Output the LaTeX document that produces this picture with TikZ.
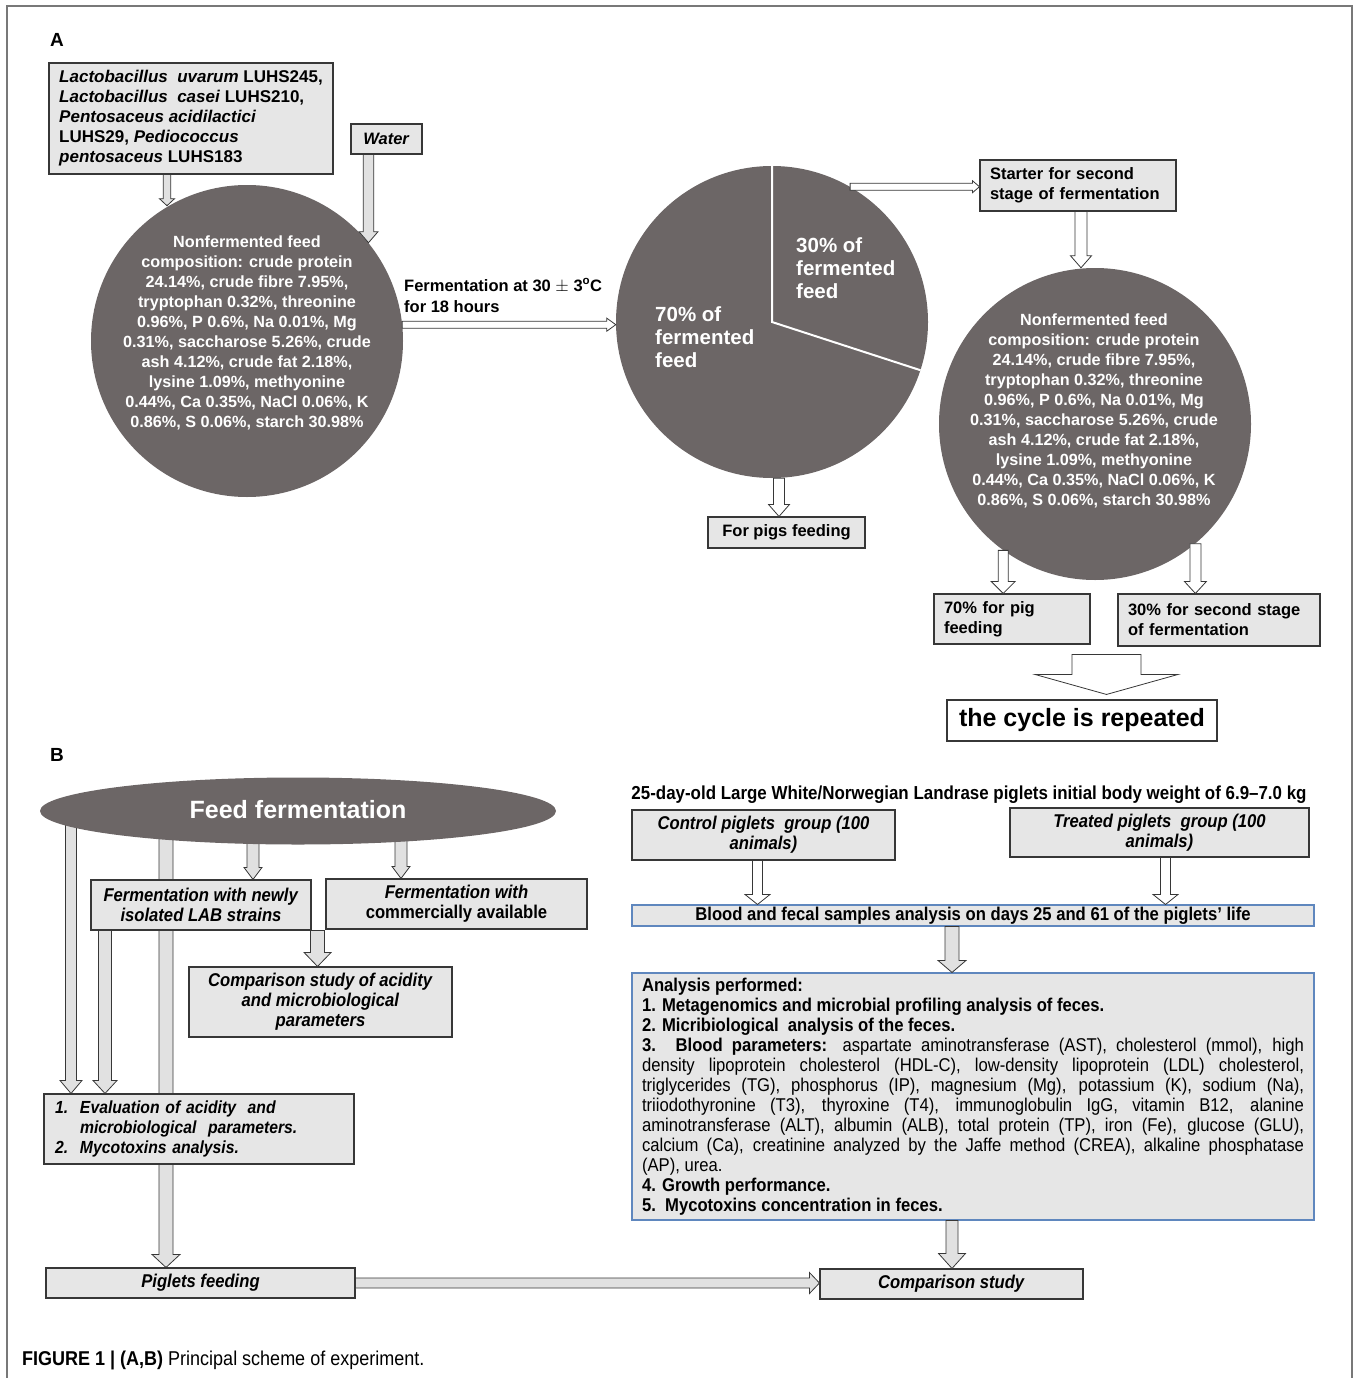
\documentclass[tikz,border=0pt]{standalone}
\usepackage{fontspec}
\setmainfont{Liberation Sans}
\newfontfamily\narrow[FakeStretch=0.9]{Liberation Sans}
\usetikzlibrary{calc,shapes.geometric}
\pgfdeclarelayer{background}
\pgfsetlayers{background,main}
\definecolor{disc}{RGB}{108,102,102}
\definecolor{boxfill}{RGB}{230,230,230}
\definecolor{boxline}{RGB}{55,55,55}
\definecolor{blueline}{RGB}{95,135,190}
\definecolor{arrfill}{RGB}{225,225,225}
\definecolor{framec}{RGB}{120,120,120}
\newcommand{\varrow}[6]{%
 \draw[arrline, fill=#6] let \p1=#1, \p2=#2 in
 (\x1-#3,\y1) -- (\x1-#3,\y2+#5) -- (\x1-#4,\y2+#5) -- (\x1,\y2) -- (\x1+#4,\y2+#5) -- (\x1+#3,\y2+#5) -- (\x1+#3,\y1) -- cycle;}
\newcommand{\harrow}[6]{%
 \draw[arrline, fill=#6] let \p1=#1, \p2=#2 in
 (\x1,\y1+#3) -- (\x2-#5,\y1+#3) -- (\x2-#5,\y1+#4) -- (\x2,\y1) -- (\x2-#5,\y1-#4) -- (\x2-#5,\y1-#3) -- (\x1,\y1-#3) -- cycle;}
\tikzset{
 arrline/.style={draw=boxline, line width=0.8pt, line join=miter},
 boxA/.style={draw=boxline, fill=boxfill, line width=1.1pt, inner sep=0pt,
   font=\bfseries\fontsize{16.5}{20}\selectfont},
 boxB/.style={draw=boxline, fill=boxfill, line width=1.1pt, inner sep=0pt,
   font=\narrow\bfseries\fontsize{18.5}{20}\selectfont},
 boxBlue/.style={draw=blueline, fill=boxfill, line width=1.1pt, inner sep=0pt,
   font=\narrow\fontsize{18.5}{20}\selectfont},
 disctext/.style={text=white, align=center, inner sep=0pt,
   font=\bfseries\fontsize{16.2}{20}\selectfont},
 pietext/.style={text=white, align=left, inner sep=0pt,
   font=\bfseries\fontsize{20.5}{23}\selectfont},
 panel/.style={font=\bfseries\fontsize{19}{20}\selectfont, inner sep=0pt}
}
\begin{document}
\begin{tikzpicture}[x=1pt,y=-1pt]
\useasboundingbox (0,0) rectangle (1358,1378);
\draw[framec, line width=1.3pt] (7,1378) -- (7,6) -- (1352,6) -- (1352,1378);

% ---------------- Panel A ----------------
\node[panel] (labA) at (57,40) {A};
\node[boxA, minimum width=284pt, minimum height=111pt, align=left, font=\bfseries\fontsize{17}{20}\selectfont] (lab) at (191,118.5)
 {\textit{Lactobacillus\ \ uvarum} LUHS245,\\
  \textit{Lactobacillus\ \ casei} LUHS210,\\
  \textit{Pentosaceus acidilactici}\\
  LUHS29, \textit{Pediococcus}\\
  \textit{pentosaceus} LUHS183};
\node[boxA, minimum width=71pt, minimum height=30pt] (water) at (386.5,139) {\textit{Water}};

\node[circle, fill=disc, minimum size=312pt, inner sep=0pt] (c1) at (247,341) {};
\node[disctext] (c1t) at (247,333)
 {Nonfermented feed\\composition: crude protein\\24.14\%, crude fibre 7.95\%,\\tryptophan 0.32\%, threonine\\0.96\%, P 0.6\%, Na 0.01\%, Mg\\0.31\%, saccharose 5.26\%, crude\\ash 4.12\%, crude fat 2.18\%,\\lysine 1.09\%, methyonine\\0.44\%, Ca 0.35\%, NaCl 0.06\%, K\\0.86\%, S 0.06\%, starch 30.98\%};

\varrow{($(lab.south)+(-24,0)$)}{(c1.120.8)}{3.8pt}{7.5pt}{7pt}{arrfill}
\varrow{($(water.south)+(-18,0)$)}{(c1.39.1)}{5.3pt}{9.5pt}{11pt}{arrfill}

\node[anchor=west, align=left, inner sep=0pt, font=\bfseries\fontsize{16.5}{21}\selectfont] (ferm) at (404,295.5)
 {Fermentation at 30 $\pm$ 3\textsuperscript{o}C\\for 18 hours};

\node[circle, fill=disc, minimum size=312pt, inner sep=0pt] (pie) at (772,322) {};
\draw[white, line width=2pt] (pie.north) -- (pie.center) -- (pie.-18);
\node[pietext, anchor=west] (p30) at (796,268) {30\% of\\fermented\\feed};
\node[pietext, anchor=west] (p70) at (655,337) {70\% of\\fermented\\feed};

\harrow{(c1.6.6)}{(pie.west)}{3.5pt}{6.5pt}{9pt}{white}

\node[boxA, minimum width=196pt, minimum height=51pt, text width=176pt, align=left] (st) at (1078,185.5)
 {Starter for second\\stage of fermentation};
\harrow{(pie.60.2)}{(st.west)}{3.5pt}{6pt}{7pt}{white}

\node[circle, fill=disc, minimum size=312pt, inner sep=0pt] (c2) at (1095,424) {};
\node[disctext] (c2t) at (1094,411)
 {Nonfermented feed\\composition: crude protein\\24.14\%, crude fibre 7.95\%,\\tryptophan 0.32\%, threonine\\0.96\%, P 0.6\%, Na 0.01\%, Mg\\0.31\%, saccharose 5.26\%, crude\\ash 4.12\%, crude fat 2.18\%,\\lysine 1.09\%, methyonine\\0.44\%, Ca 0.35\%, NaCl 0.06\%, K\\0.86\%, S 0.06\%, starch 30.98\%};
\varrow{($(st.south)+(3,0)$)}{(c2.north)}{6pt}{10.5pt}{12pt}{white}

\node[boxA, minimum width=157pt, minimum height=31pt] (pf) at (786.5,532.5) {For pigs feeding};
\varrow{($(pie.south)+(7,0)$)}{(pf.north)}{5.5pt}{10.5pt}{12pt}{white}

\node[boxA, minimum width=156pt, minimum height=50pt, text width=136pt, align=left] (b70) at (1012,619)
 {70\% for pig\\feeding};
\node[boxA, minimum width=202pt, minimum height=52pt, text width=182pt, align=left] (b30) at (1219,620)
 {30\% for second stage\\of fermentation};
\varrow{(c2.-126.6)}{(b70.north)}{5pt}{12pt}{12pt}{white}
\varrow{(c2.-50.1)}{(b30.north)}{5.5pt}{11pt}{12pt}{white}

\node[draw=boxline, fill=white, line width=1.1pt, minimum width=270pt, minimum height=41pt, inner sep=0pt,
  font=\bfseries\fontsize{25}{28}\selectfont] (cyc) at (1082,720.5) {the cycle is repeated};
\varrow{($($(b70.south east)!0.5!(b30.south west)$)+(2.5,9)$)}{($(cyc.north)+(0,-5)$)}{34.5pt}{71.5pt}{20pt}{white}

% ---------------- Panel B ----------------
\node[panel] (labB) at (57,755) {B};
\node[ellipse, fill=disc, minimum width=516pt, minimum height=67pt, inner sep=0pt] (ell) at (298,811) {};
\node[text=white, inner sep=0pt, font=\bfseries\fontsize{25}{28}\selectfont] (ellt) at (298,810) {Feed fermentation};

\node[boxB, minimum width=220pt, minimum height=50pt, align=center] (newly) at (201,905)
 {\textit{Fermentation with newly}\\\textit{isolated LAB strains}};
\node[boxB, minimum width=261pt, minimum height=50pt, align=center] (comm) at (456.5,904)
 {\textit{Fermentation with}\\commercially available};
\node[boxB, minimum width=263pt, minimum height=70pt, align=center] (cmp) at (320.5,1002)
 {\textit{Comparison study of acidity}\\\textit{and microbiological}\\\textit{parameters}};
\node[boxB, minimum width=310pt, minimum height=70pt, text width=288pt, align=left, font=\narrow\bfseries\fontsize{17.5}{20}\selectfont] (eval) at (199,1129)
 {\itshape\makebox[25pt][l]{1.}Evaluation of acidity\ \ and\\
  \hspace*{25pt}microbiological\ \ parameters.\\
  \makebox[25pt][l]{2.}Mycotoxins analysis.};
\node[boxB, minimum width=309pt, minimum height=30pt] (pfeed) at (200.5,1283) {\textit{Piglets feeding}};

\begin{pgfonlayer}{background}
\varrow{($(ell.center)+(-227,0)$)}{(eval.north)}{5.5pt}{11pt}{13pt}{arrfill}
\varrow{($(newly.south)+(-96,0)$)}{(eval.north)}{6.5pt}{12pt}{13pt}{arrfill}
\varrow{($(ell.center)+(-132,0)$)}{(pfeed.north)}{7pt}{14pt}{13pt}{arrfill}
\varrow{($(ell.center)+(-45,0)$)}{(newly.north)}{6pt}{9pt}{12pt}{arrfill}
\varrow{($(ell.center)+(103,0)$)}{(comm.north)}{6pt}{9pt}{12pt}{arrfill}
\end{pgfonlayer}
\varrow{($(newly.south east)+(6,0)$)}{(cmp.north)}{7pt}{13.5pt}{14pt}{arrfill}

\node[inner sep=0pt, font=\narrow\bfseries\fontsize{18.8}{20}\selectfont] (title) at (969,795)
 {25-day-old Large White/Norwegian Landrase piglets\ initial\ body weight of 6.9–7.0 kg};
\node[boxB, minimum width=263pt, minimum height=50pt, align=center] (ctrl) at (763.5,835)
 {\textit{Control piglets\ \ group\ (100}\\\textit{animals)}};
\node[boxB, minimum width=299pt, minimum height=49pt, align=center] (trt) at (1159.5,832.5)
 {\textit{Treated piglets\ \ group\ (100}\\\textit{animals)}};
\node[boxBlue, minimum width=682pt, minimum height=21pt, font=\narrow\bfseries\fontsize{18.5}{20}\selectfont] (blood) at (973,915.5)
 {Blood and fecal samples analysis on days 25 and 61 of the piglets’ life};
\varrow{($(ctrl.south)+(-6,0)$)}{(blood.north)}{5pt}{12.5pt}{10pt}{white}
\varrow{($(trt.south)+(6,0)$)}{(blood.north)}{5pt}{12.5pt}{10pt}{white}

\node[boxBlue, minimum width=682pt, minimum height=247pt, text width=662pt, align=justify] (ana) at (973,1096.5)
 {\parindent=0pt\hyphenpenalty=10000\emergencystretch=20pt
  \textbf{Analysis performed:}\par
  \textbf{1. Metagenomics and microbial profiling analysis of feces.}\par
  \textbf{2. Micribiological\ \ analysis of the feces.}\par
  \textbf{3. Blood parameters:} aspartate aminotransferase (AST), cholesterol (mmol), high\linebreak
  density lipoprotein cholesterol (HDL-C), low-density lipoprotein (LDL) cholesterol,\linebreak
  triglycerides (TG), phosphorus (IP), magnesium (Mg), potassium (K), sodium (Na),\linebreak
  triiodothyronine (T3), thyroxine (T4), immunoglobulin IgG, vitamin B12, alanine\linebreak
  aminotransferase (ALT), albumin (ALB), total protein (TP), iron (Fe), glucose (GLU),\linebreak
  calcium (Ca), creatinine analyzed by the Jaffe method (CREA), alkaline phosphatase\linebreak
  (AP), urea.\par
  \textbf{4. Growth performance.}\par
  \textbf{5.\ \ Mycotoxins concentration in feces.}};
\varrow{($(blood.south)+(-21,0)$)}{(ana.north)}{7pt}{14pt}{12pt}{arrfill}

\node[boxB, minimum width=263pt, minimum height=30pt] (cmpb) at (951.5,1284) {\textit{Comparison study}};
\varrow{($(ana.south)+(-21,0)$)}{(cmpb.north)}{6pt}{13.5pt}{15pt}{arrfill}
\harrow{(pfeed.east)}{(cmpb.west)}{5pt}{10.5pt}{10pt}{arrfill}

\node[anchor=west, inner sep=0pt, font=\narrow\fontsize{20}{22}\selectfont] (cap) at (22,1360)
 {\textbf{FIGURE 1 | (A,B)} Principal scheme of experiment.};
\end{tikzpicture}
\end{document}
